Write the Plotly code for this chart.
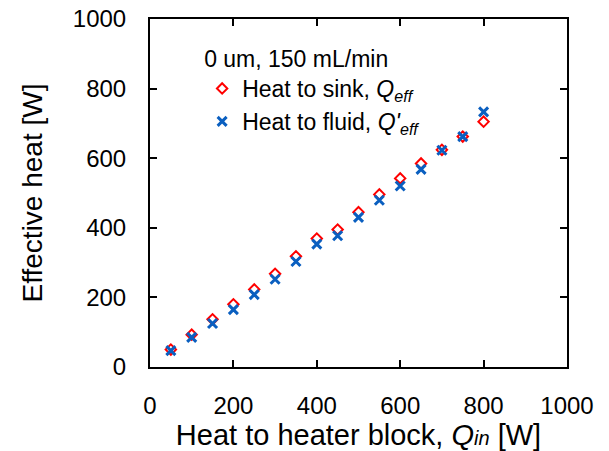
import plotly.graph_objects as go

q_in = [50, 100, 150, 200, 250, 300, 350, 400, 450, 500, 550, 600, 650, 700, 750, 800]
q_sink = [50, 93, 137, 180, 223, 268, 318, 369, 395, 445, 496, 542, 585, 624, 662, 705]
q_fluid = [47, 85, 125, 165, 208, 252, 303, 353, 377, 430, 479, 520, 568, 623, 662, 733]

legend_title = "0 um, 150 mL/min"
name_sink = "Heat to sink, <i>Q<sub>eff</sub></i>"
name_fluid = "Heat to fluid, <i>Q'<sub>eff</sub></i>"
x_title = "Heat to heater block, <i>Q<span style='font-size:20px'>in</span></i> [W]"
y_title = "Effective heat [W]"

font_family = "Liberation Sans, Arial, sans-serif"

fig = go.Figure()
fig.add_trace(go.Scatter(
    x=q_in, y=q_sink, mode="markers", name=name_sink,
    marker=dict(symbol="diamond-open", size=8, color="#FF0000", line=dict(width=2, color="#FF0000")),
))
fig.add_trace(go.Scatter(
    x=q_in, y=q_fluid, mode="markers", name=name_fluid,
    marker=dict(symbol="x-thin-open", size=9, color="#0A5FC0", line=dict(width=3, color="#0A5FC0")),
))

axis_common = dict(
    showgrid=False, zeroline=False, showline=True, linecolor="black", linewidth=2,
    mirror="ticks", ticks="inside", ticklen=7, tickwidth=1.5, tickcolor="black",
    tickfont=dict(size=24, color="black", family=font_family),
    range=[0, 1000], dtick=200, automargin=False,
)
fig.update_xaxes(**axis_common, ticklabelstandoff=16,
                 title=dict(text=x_title, font=dict(size=29, color="black", family=font_family), standoff=12))
fig.update_yaxes(**axis_common, ticklabelstandoff=17,
                 title=dict(text=y_title, font=dict(size=28, color="black", family=font_family), standoff=22))

fig.update_layout(
    width=609, height=451,
    margin=dict(l=150, r=42, t=19, b=84),
    plot_bgcolor="white", paper_bgcolor="white",
    font=dict(family=font_family, color="black"),
    legend=dict(
        x=0.125, y=0.948, xanchor="left", yanchor="top",
        bgcolor="rgba(0,0,0,0)", font=dict(size=23, color="black", family=font_family),
        title=dict(text=legend_title, font=dict(size=23, color="black", family=font_family)),
        itemwidth=30, tracegroupgap=0,
    ),
)

fig.write_html("out.html")
